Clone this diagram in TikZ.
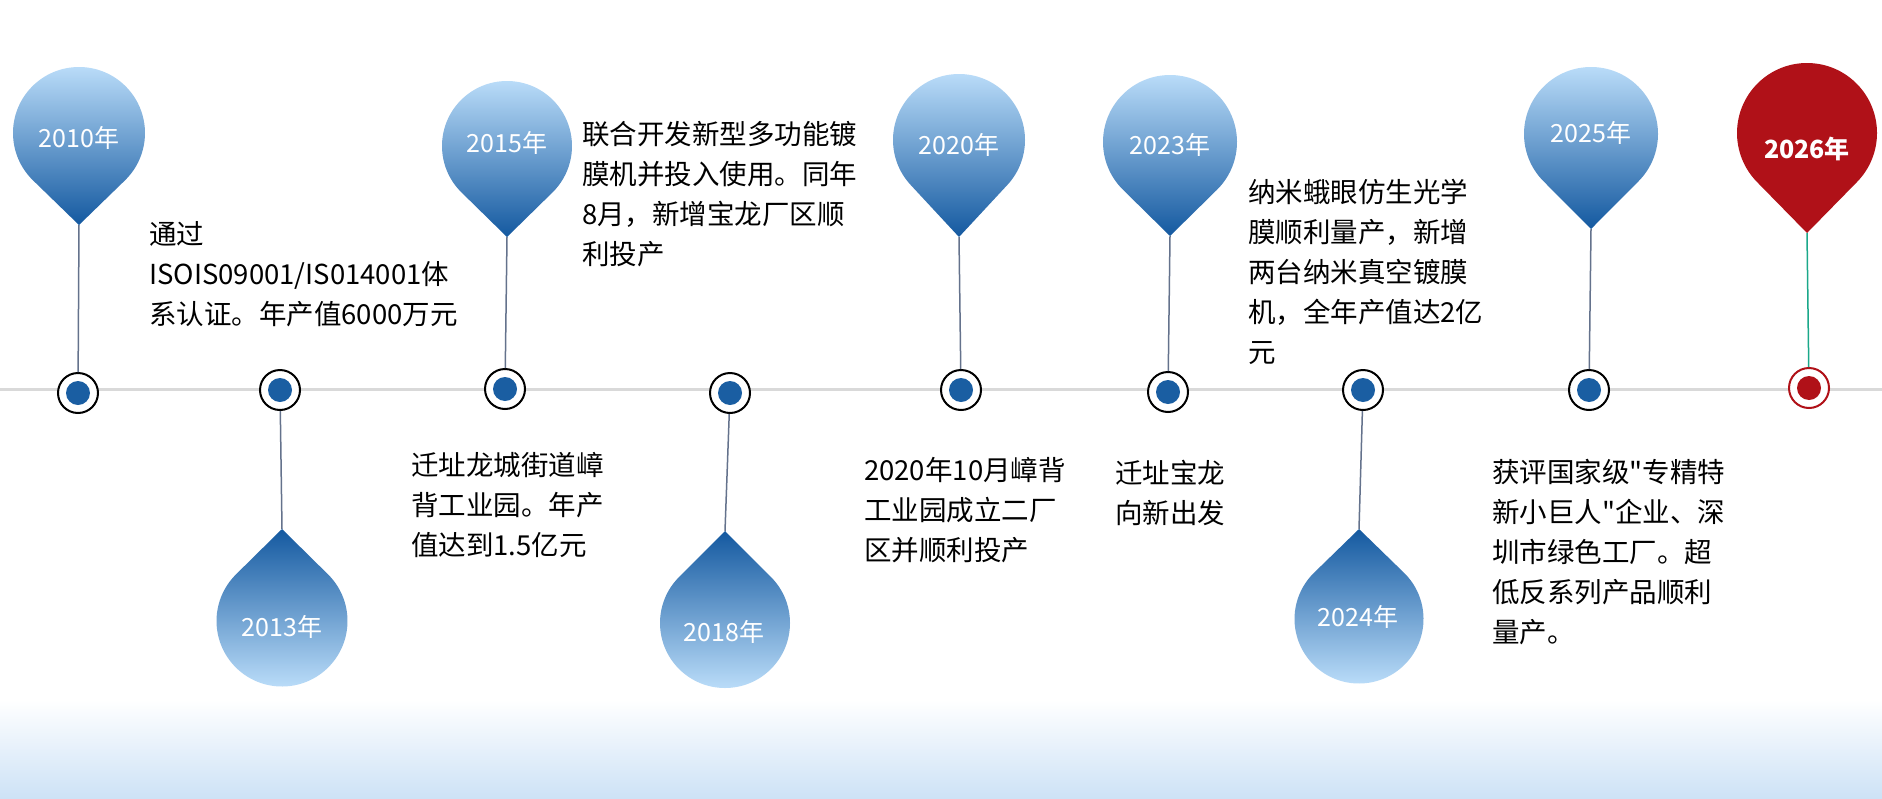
\documentclass[tikz,border=0pt]{standalone}
\usepackage{fontspec}
\setmainfont{Noto Sans CJK SC}[Ligatures=TeXOff]
\definecolor{pinlight}{RGB}{192,225,252}
\definecolor{pindark}{RGB}{20,89,160}
\definecolor{dotblue}{RGB}{26,94,162}
\definecolor{stemgray}{RGB}{100,114,140}
\definecolor{mred}{RGB}{176,17,24}
\definecolor{mgreen}{RGB}{26,168,138}
\definecolor{axisgray}{RGB}{217,217,217}
\definecolor{bgblue}{RGB}{205,226,246}
\newcommand\pinup[6]{%
  \pgfmathsetmacro\pa{acos(#4/#5)}%
  \path[#6] (#2,#3+#5) -- ({#2+#4*cos(90+\pa)},{#3+#4*sin(90+\pa)})
    arc[start angle={90+\pa}, end angle={450-\pa}, radius=#4] -- cycle;
  \coordinate (#1) at (#2,#3+#5);}
\newcommand\pindown[6]{%
  \pgfmathsetmacro\pa{acos(#4/#5)}%
  \path[#6] (#2,#3-#5) -- ({#2+#4*cos(\pa-90)},{#3+#4*sin(\pa-90)})
    arc[start angle={\pa-90}, end angle={270-\pa}, radius=#4] -- cycle;
  \coordinate (#1) at (#2,#3-#5);}
\tikzset{
  upshade/.style={top color=pinlight, bottom color=pindark},
  downshade/.style={top color=pindark, bottom color=pinlight},
  redfill/.style={fill=mred},
  yearlbl/.style={text=white, inner sep=0, font=\fontsize{25}{30}\selectfont},
  desc/.style={anchor=north west, align=left, inner sep=0, text=black, font=\fontsize{27.5}{40}\selectfont},
  dotring/.style={circle, draw=black, line width=2pt, fill=white, minimum size=40pt, inner sep=0},
  redring/.style={circle, draw=mred, line width=2pt, fill=white, minimum size=40pt, inner sep=0},
  stem/.style={draw=stemgray, line width=1.5pt},
  redstem/.style={draw=mgreen, line width=1.5pt},
  axisline/.style={draw=axisgray, line width=3pt},
}
\begin{document}
\begin{tikzpicture}[x=1pt,y=-1pt]
\path[use as bounding box, fill=white] (0,0) rectangle (1882,798);
\shade[top color=white, bottom color=bgblue] (0,700) rectangle (1882,798);
% axis
\coordinate (L) at (0,389);
\coordinate (R) at (1882,389);
\draw[axisline] (L) -- (R);
% dots
\node[dotring] (d2010) at (78,393) {};
\node[dotring] (d2013) at (280,390) {};
\node[dotring] (d2015) at (505,389) {};
\node[dotring] (d2018) at (730,393) {};
\node[dotring] (d2020) at (961,390) {};
\node[dotring] (d2023) at (1168,392) {};
\node[dotring] (d2024) at (1363,390) {};
\node[dotring] (d2025) at (1589,390) {};
\node[redring] (d2026) at (1809,388) {};
\foreach \n in {2010,2013,2015,2018,2020,2023,2024,2025}{\fill[dotblue] (d\n.center) circle[radius=12];}
\fill[mred] (d2026.center) circle[radius=12];
% pins
\pinup{t2010}{79}{133}{66}{92}{upshade}
\pinup{t2015}{507}{146}{65}{91}{upshade}
\pinup{t2020}{959}{140}{66}{97}{upshade}
\pinup{t2023}{1170}{142}{67}{94}{upshade}
\pinup{t2025}{1591}{134}{67}{95}{upshade}
\pinup{t2026}{1807}{133}{70}{100}{redfill}
\pindown{t2013}{282}{621}{65.5}{92}{downshade}
\pindown{t2018}{725}{623}{65}{92}{downshade}
\pindown{t2024}{1359}{619}{64.5}{90}{downshade}
% stems
\draw[stem] (t2010) -- (d2010);
\draw[stem] (t2015) -- (d2015);
\draw[stem] (t2020) -- (d2020);
\draw[stem] (t2023) -- (d2023);
\draw[stem] (t2025) -- (d2025);
\draw[redstem] (t2026) -- (d2026);
\draw[stem] (d2013) -- (t2013);
\draw[stem] (d2018) -- (t2018);
\draw[stem] (d2024) -- (t2024);
% year labels
\node[yearlbl] (y2010) at (79,138) {2010年};
\node[yearlbl] (y2015) at (507,143) {2015年};
\node[yearlbl] (y2020) at (959,145) {2020年};
\node[yearlbl] (y2023) at (1170,145) {2023年};
\node[yearlbl] (y2025) at (1591,133) {2025年};
\node[yearlbl, font=\fontsize{25}{30}\selectfont\bfseries] (y2026) at (1807,149) {2026年};
\node[yearlbl] (y2013) at (282,627) {2013年};
\node[yearlbl] (y2018) at (724,632) {2018年};
\node[yearlbl] (y2024) at (1358,617) {2024年};
% descriptions
\node[desc] (x2010) at (149,221.5) {通过\\ISOIS09001/IS014001体\\系认证。年产值6000万元};
\node[desc] (x2013) at (411,452.5) {迁址龙城街道嶂\\背工业园。年产\\值达到1.5亿元};
\node[desc] (x2015) at (582,121.5) {联合开发新型多功能镀\\膜机并投入使用。同年\\8月，新增宝龙厂区顺\\利投产};
\node[desc] (x2018) at (864,457.5) {2020年10月嶂背\\工业园成立二厂\\区并顺利投产};
\node[desc] (x2020) at (1115,459.5) {迁址宝龙\\向新出发};
\node[desc] (x2023) at (1248,178.5) {纳米蛾眼仿生光学\\膜顺利量产，新增\\两台纳米真空镀膜\\机，全年产值达2亿\\元};
\node[desc] (x2024) at (1492,458.5) {获评国家级"专精特\\新小巨人"企业、深\\圳市绿色工厂。超\\低反系列产品顺利\\量产。};
\end{tikzpicture}
\end{document}
